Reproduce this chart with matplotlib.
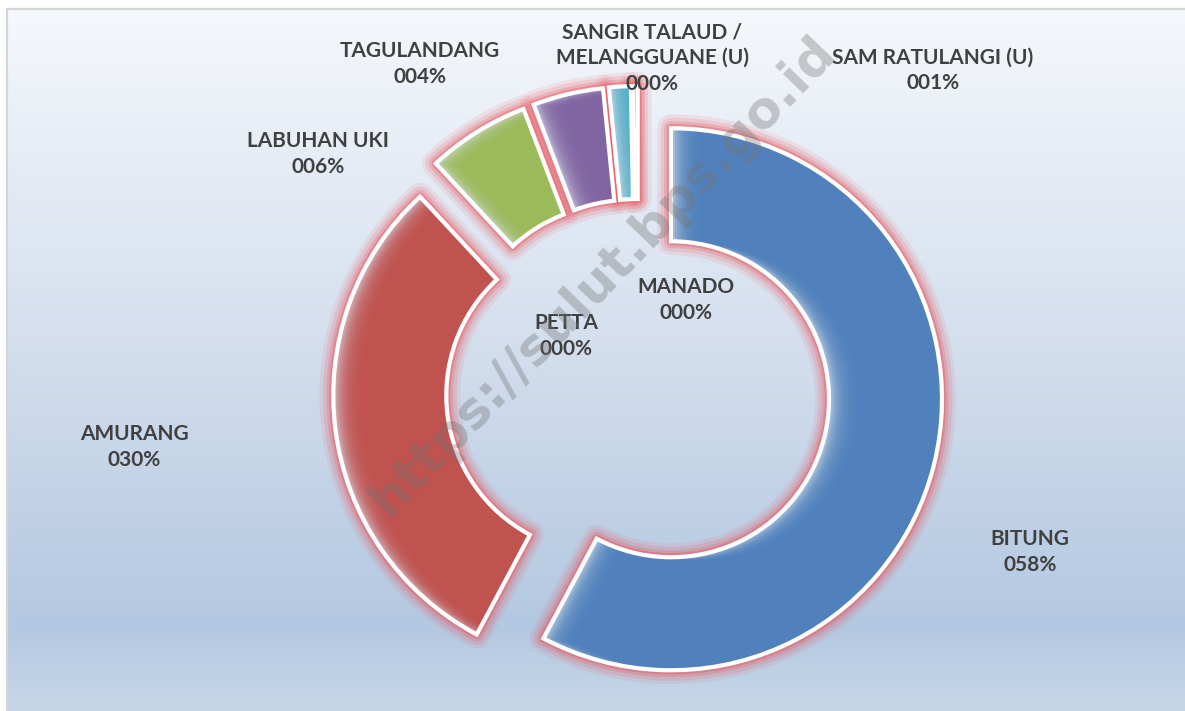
import numpy as np
import matplotlib
matplotlib.use("Agg")
import matplotlib.pyplot as plt
import matplotlib.patches as mpatches
from matplotlib.colors import LinearSegmentedColormap, to_rgb

# ---- data ----
categories = ["BITUNG", "MANADO", "PETTA", "AMURANG", "LABUHAN UKI",
              "TAGULANDANG", "SAM RATULANGI (U)", "SANGIR TALAUD /\nMELANGGUANE (U)"]
shares = [57.8, 0.0, 0.0, 30.3, 6.1, 4.2, 1.3, 0.3]
slice_colors = ["#4F81BD", "#C0504D", "#9BBB59", "#C0504D", "#9BBB59",
                "#8064A2", "#4BACC6", "#E8585A"]

# ---- layout (pixel coords, origin top-left) ----
W, H = 1185, 711
label_xy = {
    "BITUNG": (1030, 552),
    "MANADO": (686, 300),
    "PETTA": (566, 336),
    "AMURANG": (134, 447),
    "LABUHAN UKI": (318, 154),
    "TAGULANDANG": (420, 64),
    "SAM RATULANGI (U)": (933, 70),
    "SANGIR TALAUD /\nMELANGGUANE (U)": (652, 58),
}
CX, CY = 638, H - 391
R = 271
WID = 113
EXP = 34

fig = plt.figure(figsize=(W / 100, H / 100), dpi=100)
fig.patch.set_facecolor("white")
ax = fig.add_axes([0, 0, 1, 1])

# background gradient
bg = LinearSegmentedColormap.from_list(
    "bg", [(0.0, "#f5f8fc"), (0.45, "#d6e0ee"), (0.88, "#b3c8e1"), (1.0, "#c7d7e9")])
grad = np.linspace(0, 1, 256).reshape(-1, 1)
ax.imshow(grad, cmap=bg, aspect="auto", extent=[8, W, 0, H - 9], zorder=0,
          interpolation="bicubic")
ax.add_patch(mpatches.Rectangle((7, -5), W, H - 9 + 5, facecolor="none",
                                edgecolor="#d6d6d6", lw=1.6, zorder=1))

nz = [i for i, v in enumerate(shares) if v > 0]
vals = [shares[i] for i in nz]
cols = [slice_colors[i] for i in nz]
common = dict(startangle=90, counterclock=False, radius=R, center=(CX, CY),
              explode=[EXP] * len(vals), frame=True)

# soft red glow
for lw, a in [(20, 0.10), (15, 0.15), (10, 0.22), (6, 0.38)]:
    gl, _ = ax.pie(vals, wedgeprops=dict(width=WID, facecolor="none",
                                          edgecolor=(0.92, 0.32, 0.35, a),
                                          linewidth=lw, joinstyle="round"), **common)
    for g in gl:
        g.set_zorder(2)


def lighten(c, f=0.75, base=(0.84, 0.87, 0.91)):
    r = np.array(to_rgb(c))
    return tuple(r * (1 - f) + np.array(base) * f)


wedges, _ = ax.pie(vals, colors=[lighten(c) for c in cols],
                   wedgeprops=dict(width=WID, linewidth=0), **common)
for w, c in zip(wedges, cols):
    w.set_zorder(3)
    for s in range(2, 32, 2):
        p = mpatches.Wedge((w.center[0] + s, w.center[1] - s * 0.1), w.r, w.theta1, w.theta2,
                           width=w.width, facecolor=c, alpha=0.2, lw=0, zorder=4)
        ax.add_patch(p)
        p.set_clip_path(w)

edges, _ = ax.pie(vals, wedgeprops=dict(width=WID, facecolor="none", edgecolor="white",
                                         linewidth=3, joinstyle="miter"), **common)
for e in edges:
    e.set_zorder(5)

# labels
for name, v in zip(categories, shares):
    x, y = label_xy[name]
    ax.text(x, H - y, f"{name}\n{int(round(v)):03d}%", ha="center", va="center",
            fontsize=15, fontweight="bold", family="Lato", color="#404040",
            linespacing=1.35, zorder=7)

# watermark
ax.text(603, H - 276, "https://sulut.bps.go.id", rotation=46, rotation_mode="anchor",
        ha="center", va="center", fontsize=37, fontweight="bold", family="DejaVu Sans",
        color="#737373", alpha=0.36, zorder=8)

ax.set_xlim(0, W)
ax.set_ylim(0, H)
ax.set_aspect("auto")
ax.axis("off")
fig.savefig("out.png", dpi=100, facecolor="white")
